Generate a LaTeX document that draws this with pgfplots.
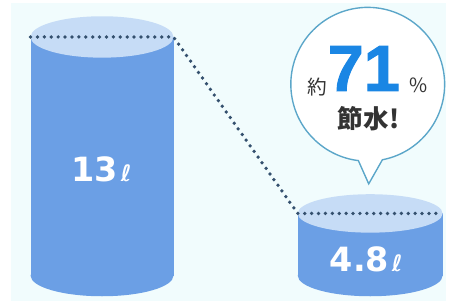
\documentclass[border=0pt]{standalone}
\usepackage{pgfplots}
\pgfplotsset{compat=1.18}
\usepackage{pgfplotstable}
\usepackage{fontspec}
\setmainfont{DejaVu Sans}
\newfontfamily\cjk{Noto Sans CJK JP}
\newfontfamily\heavy[FakeBold=1.5]{Liberation Sans Bold}
\newfontfamily\dv{DejaVu Sans}
\definecolor{bgc}{HTML}{F1FCFD}
\definecolor{body}{HTML}{6B9FE5}
\definecolor{topc}{HTML}{C6DCF6}
\definecolor{dotc}{HTML}{34506E}
\definecolor{circc}{HTML}{5BA6C9}
\definecolor{blue71}{HTML}{1A86E4}
\definecolor{txt}{HTML}{333333}
\pgfplotstableread{
x y
103.5 13
375.5 4.8
}\water
\begin{document}
\begin{tikzpicture}
\begin{axis}[
  scale only axis, width=452bp, height=308bp,
  xmin=0, xmax=452, ymin=0.586, ymax=14.695,
  hide axis, clip=false,
]
% background
\fill[white] (rel axis cs:0,0) rectangle (rel axis cs:1,1);
\fill[bgc] (rel axis cs:{11/452},{3/308}) rectangle (rel axis cs:1,{1-3/308});
% cylinder bodies (base at 1.914)
\addplot[fill=body, draw=none] coordinates {(31,1.914) (31,13) (176,13) (176,1.914)} -- cycle;
\addplot[fill=body, draw=none] coordinates {(302,1.914) (302,4.8) (449,4.8) (449,1.914)} -- cycle;
\fill[body] (axis cs:103.5,1.914) ellipse[x radius=72.5bp, y radius=21bp];
\fill[body] (axis cs:375.5,1.914) ellipse[x radius=73.5bp, y radius=21bp];
\fill[topc] (axis cs:103.5,13) ellipse[x radius=72.5bp, y radius=21bp];
\fill[topc] (axis cs:375.5,4.8) ellipse[x radius=73.5bp, y radius=19.5bp];
% dotted connection
\addplot[dotc, line width=3.8bp, line cap=round, dash pattern=on 0pt off 7bp] table[x=x,y=y] {
x y
31 13
176 13
302 4.8
449 4.8
};
% values
\node[text=white, inner sep=0pt] at (rel axis cs:{103/452},{1-171/308}) {\dv\bfseries\fontsize{34}{34}\selectfont 13\hspace{3bp}{\fontsize{23}{23}\selectfont ℓ}};
\node[text=white, inner sep=0pt] at (rel axis cs:{371.5/452},{1-263/308}) {\dv\bfseries\fontsize{34}{34}\selectfont 4.8\hspace{3bp}{\fontsize{23}{23}\selectfont ℓ}};
% speech bubble
\coordinate (cen) at (rel axis cs:{373/452},{1-85/308});
\coordinate (tip) at (rel axis cs:{374/452},{1-186/308});
\filldraw[fill=white, draw=circc, line width=1.4bp, line join=miter]
  (cen) ++(281:78bp) arc[start angle=281, end angle=623, radius=78bp] -- (tip) -- cycle;
\node[inner sep=0pt, text=txt] at (rel axis cs:{322/452},{1-88/308}) {\cjk\fontsize{20}{20}\selectfont 約};
\node[inner sep=0pt, text=blue71] at (rel axis cs:{369/452},{1-69/308}) {\heavy\fontsize{66}{66}\selectfont 71};
\node[inner sep=0pt, text=txt] at (rel axis cs:{425/452},{1-86/308}) {\cjk\fontsize{20}{20}\selectfont \%};
\node[inner sep=0pt, text=txt] at (rel axis cs:{374/452},{1-120/308}) {\cjk\bfseries\fontsize{26}{26}\selectfont 節水\hspace{1bp}!};
\end{axis}
\end{tikzpicture}
\end{document}
